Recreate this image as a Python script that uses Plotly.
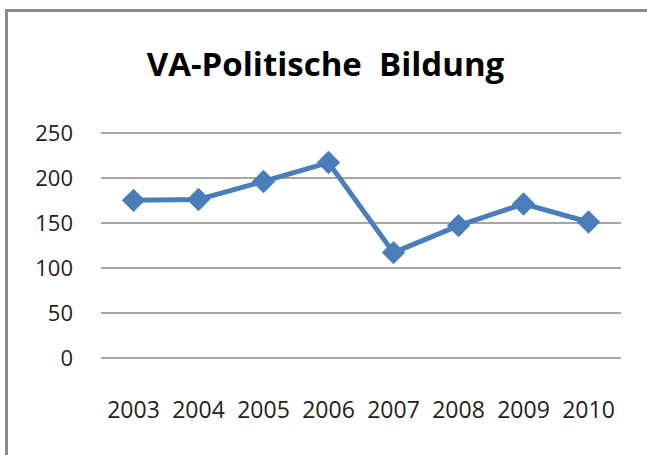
import plotly.graph_objects as go

years = ["2003", "2004", "2005", "2006", "2007", "2008", "2009", "2010"]
values = [175, 176, 196, 217, 117, 147, 171, 151]
y_ticks = [0, 50, 100, 150, 200, 250]

W, H = 647, 455
L, R, T, B = 101, 26, 131, 97
pw, ph = W - L - R, H - T - B
Y_MAX = 252

def px_to_paper_x(px):
    return (px - L) / pw

def px_to_paper_y(py):
    return (H - B - py) / ph

FONT = "Open Sans, Noto Sans, sans-serif"
BLUE = "#4a7ebb"
GRID = "#a6a6a6"

fig = go.Figure()
fig.add_trace(go.Scatter(
    x=years, y=values, mode="lines+markers",
    line=dict(color=BLUE, width=5),
    marker=dict(symbol="diamond", size=18, color=BLUE),
    showlegend=False, hoverinfo="x+y",
))

border = "#8a8a8a"
fig.add_shape(type="line", xref="paper", yref="paper",
              x0=px_to_paper_x(5), x1=px_to_paper_x(W + 5),
              y0=px_to_paper_y(10.5), y1=px_to_paper_y(10.5),
              line=dict(color=border, width=3))
fig.add_shape(type="line", xref="paper", yref="paper",
              x0=px_to_paper_x(6.5), x1=px_to_paper_x(6.5),
              y0=px_to_paper_y(9), y1=px_to_paper_y(H + 5),
              line=dict(color=border, width=3))

fig.update_layout(
    width=W, height=H,
    margin=dict(l=L, r=R, t=T, b=B, autoexpand=False),
    paper_bgcolor="white", plot_bgcolor="white",
    title=dict(text="<b>VA-Politische  Bildung</b>", x=325.5 / W, xanchor="center",
               y=1 - 64.5 / H, yanchor="middle",
               font=dict(family=FONT, size=33, color="#000000")),
    xaxis=dict(type="category", range=[-0.5, len(years) - 0.5],
               showgrid=False, showline=False, ticks="",
               tickangle=0, automargin=False,
               tickfont=dict(family=FONT, size=23, color="#222222"),
               ticklabelstandoff=36),
    yaxis=dict(range=[0, Y_MAX], tickvals=y_ticks, showgrid=True,
               gridcolor=GRID, gridwidth=1.5, zeroline=True,
               zerolinecolor=GRID, zerolinewidth=1.5,
               showline=False, ticks="", automargin=False,
               tickfont=dict(family=FONT, size=22, color="#222222"),
               ticklabelstandoff=27),
)

fig.write_html("out.html", config={"displayModeBar": False},
               post_script="document.body.style.margin='0';")
